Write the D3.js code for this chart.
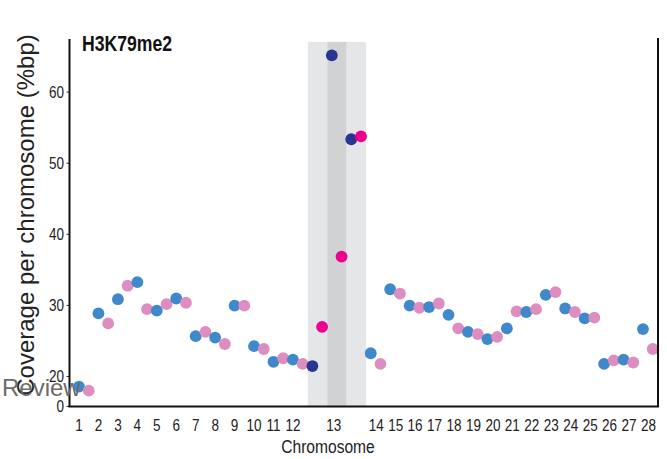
<!DOCTYPE html>
<html><head><meta charset="utf-8">
<script src="https://cdn.jsdelivr.net/npm/d3@7"></script>
<style>
html,body{margin:0;padding:0;background:#fff;}
svg{display:block;}
</style></head>
<body>
<svg id="chart" width="667" height="459"></svg>
<script>
// Slots along the x axis (chromosome 13 split in three sub-columns)
const slots = ["1","2","3","4","5","6","7","8","9","10","11","12","13a","13b","13c",
  "14","15","16","17","18","19","20","21","22","23","24","25","26","27","28"];
const tickLabels = ["1","2","3","4","5","6","7","8","9","10","11","12","","13","",
  "14","15","16","17","18","19","20","21","22","23","24","25","26","27","28"];
// first series of each pair (blue; navy inside chr 13)
const seriesA = [12.9,28.8,30.8,33.2,29.2,30.9,25.6,25.4,29.9,24.2,22.0,22.3,21.4,65.1,53.3,
  23.2,32.2,29.9,29.7,28.6,26.2,25.2,26.7,29.0,31.4,29.5,28.1,21.7,22.3,26.6];
// second series of each pair (pink; magenta inside chr 13)
const seriesB = [10.2,27.4,32.7,29.4,30.1,30.3,26.2,24.5,29.9,23.8,22.5,21.7,26.9,36.8,53.7,
  21.7,31.6,29.6,30.2,26.7,25.9,25.5,29.1,29.4,31.8,29.0,28.2,22.2,21.9,23.8];
const yTicks = [0,20,30,40,50,60];
const highlightSlots = ["13a","13b","13c"];

const svg = d3.select("#chart");
const font = "'Liberation Sans',Arial,sans-serif";
const squeeze = 0.82; // emulate a narrow (condensed) face

const x = d3.scalePoint().domain(slots).range([79, 643]);
const step = x.step();
const y = d3.scaleLinear().domain([0, 20, 67.4]).range([406, 376, 39]);

// shaded band for chromosome 13
highlightSlots.forEach((s, i) => {
  svg.append("rect")
    .attr("x", x(s) - 4.6).attr("y", y(67))
    .attr("width", step).attr("height", y(0) - y(67))
    .attr("fill", i === 1 ? "#d1d2d4" : "#e5e6e8");
});

// points
const colA = "#3f88cc", colB = "#de8dc0", colA13 = "#283593", colB13 = "#ec008c";
const pts = [];
slots.forEach((s, i) => {
  const hl = highlightSlots.includes(s);
  pts.push({x: x(s), v: seriesA[i], c: hl ? colA13 : colA});
  pts.push({x: x(s) + step / 2, v: seriesB[i], c: hl ? colB13 : colB});
});
svg.append("g").selectAll("circle").data(pts).join("circle")
  .attr("cx", d => d.x).attr("cy", d => y(d.v)).attr("r", 5.9)
  .attr("fill", d => d.c);

// y axis: ticks from d3 axis, labels drawn narrow
const yAxis = d3.axisLeft(y).tickValues(yTicks).tickSize(3).tickFormat("");
const gy = svg.append("g").attr("transform", "translate(69.5,0)").call(yAxis);
gy.select(".domain").remove();
gy.selectAll(".tick line").attr("stroke", "#333");
svg.append("g").selectAll("text").data(yTicks).join("text")
  .attr("transform", d => `translate(64,${y(d)}) scale(${squeeze},1)`)
  .attr("dy", "0.36em").attr("text-anchor", "end")
  .attr("font-family", font).attr("font-size", 16.5).attr("fill", "#222")
  .text(d => d);
svg.append("line").attr("x1", 69.5).attr("x2", 69.5).attr("y1", 39).attr("y2", 407)
  .attr("stroke", "#111").attr("stroke-width", 2);

// x axis labels
const labelOffset = s => (+s >= 14 ? 5.5 : (s === "13b" ? 2 : 0));
svg.append("g").selectAll("text").data(slots).join("text")
  .attr("transform", s => `translate(${x(s) + labelOffset(s)},431) scale(${squeeze},1)`)
  .attr("text-anchor", "middle")
  .attr("font-family", font).attr("font-size", 16.5).attr("fill", "#222")
  .text((s, i) => tickLabels[i]);
svg.append("line").attr("x1", 68.5).attr("x2", 659).attr("y1", 406.5).attr("y2", 406.5)
  .attr("stroke", "#111").attr("stroke-width", 2);
svg.append("line").attr("x1", 658).attr("x2", 658).attr("y1", 38).attr("y2", 407)
  .attr("stroke", "#111").attr("stroke-width", 2);

// titles
svg.append("text").attr("transform", `translate(82,51) scale(${squeeze},1)`)
  .attr("font-family", font).attr("font-weight", "bold").attr("font-size", 21.5)
  .attr("fill", "#111").text("H3K79me2");
svg.append("text").attr("transform", `translate(328,453) scale(${squeeze},1)`)
  .attr("text-anchor", "middle")
  .attr("font-family", font).attr("font-size", 19).attr("fill", "#222").text("Chromosome");
svg.append("text").attr("transform", "translate(34,215) rotate(-90)")
  .attr("text-anchor", "middle")
  .attr("font-family", font).attr("font-size", 24).attr("fill", "#222")
  .text("Coverage per chromosome (%bp)");

// watermark
svg.append("text").attr("x", 2).attr("y", 396)
  .attr("font-family", font).attr("font-size", 24).attr("fill", "#6b6b6b")
  .text("Review");
</script>
</body></html>
